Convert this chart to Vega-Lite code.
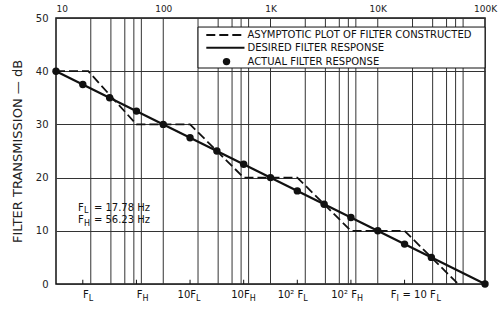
{
  "$schema": "https://vega.github.io/schema/vega-lite/v6.json",
  "width": 429,
  "height": 266,
  "autosize": "none",
  "padding": {"left": 56, "top": 18, "right": 16, "bottom": 25},
  "background": "white",
  "config": {
    "font": "DejaVu Sans",
    "view": {"stroke": "#111", "strokeWidth": 1.5},
    "text": {"font": "DejaVu Sans", "color": "#111"}
  },
  "datasets": {
    "desired": [{"f": 10, "db": 40}, {"f": 100000, "db": 0}],
    "asym": [
      {"f": 10, "db": 40}, {"f": 20, "db": 40}, {"f": 56.23, "db": 30}, {"f": 177.8, "db": 30},
      {"f": 562.3, "db": 20}, {"f": 1778, "db": 20}, {"f": 5623, "db": 10}, {"f": 17783, "db": 10}, {"f": 56234, "db": 0}
    ],
    "actual": [
      {"f": 10, "db": 40}, {"f": 17.78, "db": 37.5}, {"f": 31.62, "db": 35}, {"f": 56.23, "db": 32.5},
      {"f": 100, "db": 30}, {"f": 177.8, "db": 27.5}, {"f": 316.2, "db": 25}, {"f": 562.3, "db": 22.5},
      {"f": 1000, "db": 20}, {"f": 1778, "db": 17.5}, {"f": 3162, "db": 15}, {"f": 5623, "db": 12.5},
      {"f": 10000, "db": 10}, {"f": 17783, "db": 7.5}, {"f": 31623, "db": 5}, {"f": 100000, "db": 0}
    ],
    "grid": [
      {"f": 21.1}, {"f": 32.5}, {"f": 43.8}, {"f": 53.2}, {"f": 62.5}, {"f": 100},
      {"f": 211}, {"f": 325}, {"f": 438}, {"f": 532}, {"f": 625}, {"f": 1000},
      {"f": 2110}, {"f": 3250}, {"f": 4380}, {"f": 5320}, {"f": 6250}, {"f": 10000},
      {"f": 21100}, {"f": 32500}, {"f": 43800}, {"f": 53200}, {"f": 62500}
    ],
    "xlabels": [
      {"f": 17.78, "main": "F", "sub": "L"},
      {"f": 56.23, "main": "F", "sub": "H"},
      {"f": 177.8, "main": "10F", "sub": "L"},
      {"f": 562.3, "main": "10F", "sub": "H"},
      {"f": 1778, "main": "10² F", "sub": "L"},
      {"f": 5623, "main": "10² F", "sub": "H"},
      {"f": 17783, "main": "F", "sub": "I", "tail": "= 10  F", "tailsub": "L"}
    ]
  },
  "layer": [
    {
      "data": {"name": "desired"},
      "mark": {"type": "line", "color": "#111", "strokeWidth": 2, "opacity": 0},
      "encoding": {
        "x": {
          "field": "f", "type": "quantitative",
          "scale": {"type": "log", "domain": [10, 100000], "nice": false},
          "axis": {
            "orient": "top", "values": [10, 100, 1000, 10000, 100000],
            "labelExpr": "datum.value >= 1000 ? format(datum.value / 1000, 'd') + 'K' : format(datum.value, 'd')",
            "ticks": false, "domain": false, "grid": false,
            "labelPadding": 5, "labelFont": "DejaVu Sans", "labelFontSize": 9, "labelColor": "#222",
            "labelFlush": false, "labelOverlap": false, "title": null,
            "labelAlign": {"condition": {"test": "datum.value <= 10", "value": "left"}, "value": "center"}
          }
        },
        "y": {
          "field": "db", "type": "quantitative",
          "scale": {"domain": [0, 50], "nice": false, "zero": false},
          "axis": {
            "orient": "left", "values": [0, 10, 20, 30, 40, 50],
            "grid": true, "gridColor": "#333", "gridWidth": 1,
            "ticks": false, "domain": false,
            "labelPadding": 8, "labelFont": "DejaVu Sans", "labelFontSize": 10, "labelColor": "#222",
            "title": "FILTER TRANSMISSION — dB", "titleFont": "DejaVu Sans", "titleFontSize": 13,
            "titleFontWeight": "normal", "titleColor": "#222", "titlePadding": 11
          }
        }
      }
    },
    {
      "data": {"name": "grid"},
      "mark": {"type": "rule", "color": "#333", "strokeWidth": 1},
      "encoding": {
        "x": {"field": "f", "type": "quantitative"}
      }
    },
    {
      "data": {"values": [{"t": "box"}]},
      "mark": {"type": "rect", "fill": "white", "stroke": "#111", "strokeWidth": 1},
      "encoding": {
        "x": {"datum": 211, "type": "quantitative"},
        "x2": {"datum": 100000},
        "y": {"datum": 40.6, "type": "quantitative"},
        "y2": {"datum": 48.3}
      }
    },
    {
      "data": {"name": "desired"},
      "mark": {"type": "line", "color": "#111", "strokeWidth": 2.2},
      "encoding": {
        "x": {"field": "f", "type": "quantitative"},
        "y": {"field": "db", "type": "quantitative"}
      }
    },
    {
      "data": {"name": "asym"},
      "mark": {"type": "line", "color": "#111", "strokeWidth": 1.8, "strokeDash": [9, 4]},
      "encoding": {
        "x": {"field": "f", "type": "quantitative"},
        "y": {"field": "db", "type": "quantitative"}
      }
    },
    {
      "data": {"name": "actual"},
      "mark": {"type": "point", "filled": true, "color": "#111", "size": 55, "opacity": 1},
      "encoding": {
        "x": {"field": "f", "type": "quantitative"},
        "y": {"field": "db", "type": "quantitative"}
      }
    },
    {
      "data": {"name": "xlabels"},
      "mark": {"type": "rule", "color": "#111", "strokeWidth": 1},
      "encoding": {
        "x": {"field": "f", "type": "quantitative"},
        "y": {"datum": 0, "type": "quantitative"},
        "y2": {"datum": 0.8}
      }
    },
    {
      "data": {"name": "xlabels"},
      "transform": [{"filter": "!datum.tail"}],
      "mark": {"type": "text", "align": "right", "baseline": "alphabetic", "dx": 6, "fontSize": 10, "color": "#111"},
      "encoding": {
        "x": {"field": "f", "type": "quantitative"},
        "y": {"datum": -2.6, "type": "quantitative"},
        "text": {"field": "main"}
      }
    },
    {
      "data": {"name": "xlabels"},
      "transform": [{"filter": "!datum.tail"}],
      "mark": {"type": "text", "align": "left", "baseline": "alphabetic", "dx": 6, "dy": 3, "fontSize": 8, "color": "#111"},
      "encoding": {
        "x": {"field": "f", "type": "quantitative"},
        "y": {"datum": -2.6, "type": "quantitative"},
        "text": {"field": "sub"}
      }
    },
    {
      "data": {"name": "xlabels"},
      "transform": [{"filter": "datum.tail"}],
      "mark": {"type": "text", "align": "right", "baseline": "alphabetic", "dx": -8, "fontSize": 10, "color": "#111"},
      "encoding": {
        "x": {"field": "f", "type": "quantitative"},
        "y": {"datum": -2.6, "type": "quantitative"},
        "text": {"field": "main"}
      }
    },
    {
      "data": {"name": "xlabels"},
      "transform": [{"filter": "datum.tail"}],
      "mark": {"type": "text", "align": "left", "baseline": "alphabetic", "dx": -8, "dy": 3, "fontSize": 8, "color": "#111"},
      "encoding": {
        "x": {"field": "f", "type": "quantitative"},
        "y": {"datum": -2.6, "type": "quantitative"},
        "text": {"field": "sub"}
      }
    },
    {
      "data": {"name": "xlabels"},
      "transform": [{"filter": "datum.tail"}],
      "mark": {"type": "text", "align": "left", "baseline": "alphabetic", "dx": -2, "fontSize": 10, "color": "#111"},
      "encoding": {
        "x": {"field": "f", "type": "quantitative"},
        "y": {"datum": -2.6, "type": "quantitative"},
        "text": {"field": "tail"}
      }
    },
    {
      "data": {"name": "xlabels"},
      "transform": [{"filter": "datum.tail"}],
      "mark": {"type": "text", "align": "left", "baseline": "alphabetic", "dx": 32, "dy": 3, "fontSize": 8, "color": "#111"},
      "encoding": {
        "x": {"field": "f", "type": "quantitative"},
        "y": {"datum": -2.6, "type": "quantitative"},
        "text": {"field": "tailsub"}
      }
    },
    {
      "data": {"values": [{"t": "dash"}]},
      "mark": {"type": "rule", "color": "#111", "strokeWidth": 2, "strokeDash": [9, 4]},
      "encoding": {
        "x": {"datum": 252, "type": "quantitative"},
        "x2": {"datum": 572},
        "y": {"datum": 46.8, "type": "quantitative"}
      }
    },
    {
      "data": {"values": [{"t": "solid"}]},
      "mark": {"type": "rule", "color": "#111", "strokeWidth": 2},
      "encoding": {
        "x": {"datum": 252, "type": "quantitative"},
        "x2": {"datum": 572},
        "y": {"datum": 44.4, "type": "quantitative"}
      }
    },
    {
      "data": {"values": [{"t": "dot"}]},
      "mark": {"type": "point", "filled": true, "color": "#111", "size": 55, "opacity": 1},
      "encoding": {
        "x": {"datum": 389, "type": "quantitative"},
        "y": {"datum": 41.8, "type": "quantitative"}
      }
    },
    {
      "data": {"values": [{"t": "ASYMPTOTIC PLOT OF FILTER CONSTRUCTED"}]},
      "mark": {"type": "text", "align": "left", "baseline": "middle", "fontSize": 10, "color": "#111"},
      "encoding": {
        "x": {"datum": 610, "type": "quantitative"},
        "y": {"datum": 46.8, "type": "quantitative"},
        "text": {"field": "t"}
      }
    },
    {
      "data": {"values": [{"t": "DESIRED FILTER RESPONSE"}]},
      "mark": {"type": "text", "align": "left", "baseline": "middle", "fontSize": 10, "color": "#111"},
      "encoding": {
        "x": {"datum": 610, "type": "quantitative"},
        "y": {"datum": 44.4, "type": "quantitative"},
        "text": {"field": "t"}
      }
    },
    {
      "data": {"values": [{"t": "ACTUAL FILTER RESPONSE"}]},
      "mark": {"type": "text", "align": "left", "baseline": "middle", "fontSize": 10, "color": "#111"},
      "encoding": {
        "x": {"datum": 610, "type": "quantitative"},
        "y": {"datum": 41.8, "type": "quantitative"},
        "text": {"field": "t"}
      }
    },
    {
      "data": {"values": [{"t": "F"}]},
      "mark": {"type": "text", "align": "left", "baseline": "alphabetic", "fontSize": 10, "color": "#111"},
      "encoding": {
        "x": {"datum": 16, "type": "quantitative"},
        "y": {"datum": 13.8, "type": "quantitative"},
        "text": {"field": "t"}
      }
    },
    {
      "data": {"values": [{"t": "L"}]},
      "mark": {"type": "text", "align": "left", "baseline": "alphabetic", "fontSize": 8, "dx": 6, "dy": 2.5, "color": "#111"},
      "encoding": {
        "x": {"datum": 16, "type": "quantitative"},
        "y": {"datum": 13.8, "type": "quantitative"},
        "text": {"field": "t"}
      }
    },
    {
      "data": {"values": [{"t": "= 17.78 Hz"}]},
      "mark": {"type": "text", "align": "left", "baseline": "alphabetic", "fontSize": 10, "dx": 16, "color": "#111"},
      "encoding": {
        "x": {"datum": 16, "type": "quantitative"},
        "y": {"datum": 13.8, "type": "quantitative"},
        "text": {"field": "t"}
      }
    },
    {
      "data": {"values": [{"t": "F"}]},
      "mark": {"type": "text", "align": "left", "baseline": "alphabetic", "fontSize": 10, "color": "#111"},
      "encoding": {
        "x": {"datum": 16, "type": "quantitative"},
        "y": {"datum": 11.5, "type": "quantitative"},
        "text": {"field": "t"}
      }
    },
    {
      "data": {"values": [{"t": "H"}]},
      "mark": {"type": "text", "align": "left", "baseline": "alphabetic", "fontSize": 8, "dx": 6, "dy": 3, "color": "#111"},
      "encoding": {
        "x": {"datum": 16, "type": "quantitative"},
        "y": {"datum": 11.5, "type": "quantitative"},
        "text": {"field": "t"}
      }
    },
    {
      "data": {"values": [{"t": "= 56.23 Hz"}]},
      "mark": {"type": "text", "align": "left", "baseline": "alphabetic", "fontSize": 10, "dx": 16, "color": "#111"},
      "encoding": {
        "x": {"datum": 16, "type": "quantitative"},
        "y": {"datum": 11.5, "type": "quantitative"},
        "text": {"field": "t"}
      }
    }
  ]
}
